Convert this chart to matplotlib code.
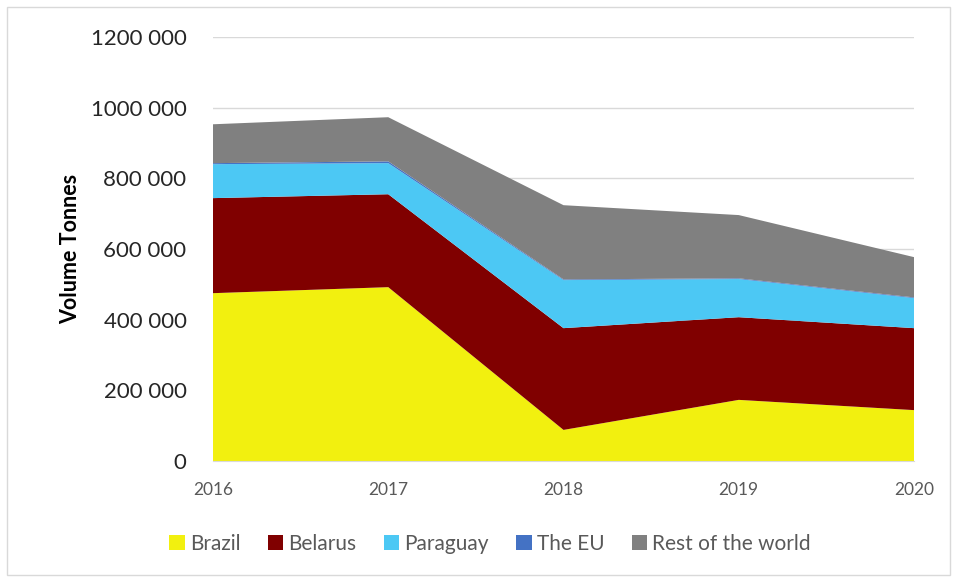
import numpy as np
import matplotlib
matplotlib.use("Agg")
import matplotlib.pyplot as plt
from matplotlib.patches import Rectangle, Patch
from matplotlib.ticker import FuncFormatter

plt.rcParams['font.family'] = ['Lato', 'DejaVu Sans']

years = [2016, 2017, 2018, 2019, 2020]
brazil = [475000, 492000, 88000, 173000, 144000]
belarus = [269000, 263000, 288000, 234000, 232000]
paraguay = [96000, 88000, 136000, 108000, 85000]
eu = [3000, 5000, 2000, 2000, 2000]
rest = [110000, 125000, 210000, 179000, 114000]

labels = ["Brazil", "Belarus", "Paraguay", "The EU", "Rest of the world"]
colors = ["#f2f00f", "#800000", "#4cc8f4", "#4472c4", "#808080"]


def fmt(v, pos):
    v = int(v)
    if v < 1000:
        return str(v)
    return f"{v // 1000} {v % 1000:03d}"


fig = plt.figure(figsize=(9.56, 5.79), dpi=100)
ax = fig.add_axes([213 / 956, 1 - 461 / 579, (914 - 213) / 956, (461 - 37) / 579])

ax.stackplot(years, brazil, belarus, paraguay, eu, rest, colors=colors, linewidth=0)

ax.set_xlim(2016, 2020)
ax.set_ylim(0, 1200000)
ax.set_yticks(np.arange(0, 1200001, 200000))
ax.set_xticks(years)
ax.yaxis.set_major_formatter(FuncFormatter(fmt))
ax.grid(axis="y", color="#d9d9d9", linewidth=1)
ax.set_axisbelow(True)
for s in ["top", "right", "left"]:
    ax.spines[s].set_visible(False)
ax.spines["bottom"].set_color("#d9d9d9")
ax.tick_params(axis="y", length=0, labelsize=16, colors="#262626", pad=19)
ax.tick_params(axis="x", length=0, labelsize=12.5, colors="#595959", pad=15)
ax.set_ylabel("Volume Tonnes", fontsize=15.5, fontweight="bold", color="#000000", labelpad=7)

handles = [Patch(facecolor=c, edgecolor="none") for c in colors]
fig.legend(handles, labels, loc="center", bbox_to_anchor=(490 / 956, 1 - 544 / 579),
           ncol=5, frameon=False, fontsize=15, handlelength=0.75, handleheight=0.75,
           handletextpad=0.25, columnspacing=1.3, labelcolor="#595959")

fig.patches.append(Rectangle((7 / 956, 4 / 579), 943 / 956, 568 / 579, transform=fig.transFigure,
                             fill=False, edgecolor="#d9d9d9", linewidth=1))

fig.savefig("out.png", dpi=100)
